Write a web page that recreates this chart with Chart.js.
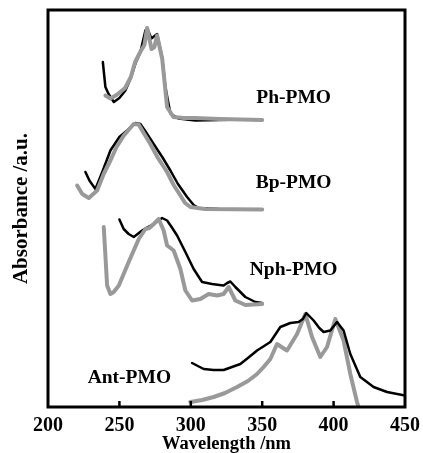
<!DOCTYPE html>
<html>
<head>
<meta charset="utf-8">
<script src="https://cdn.jsdelivr.net/npm/chart.js@4"></script>
<style>
  html, body { margin: 0; padding: 0; background: #fff; }
  #wrap { width: 423px; height: 453px; }
</style>
</head>
<body>
<div id="wrap"><canvas id="uvChart" width="423" height="453"></canvas></div>
<script>
// wavelength (nm) / absorbance (a.u., curves offset)
const phBlackX = [238.4, 240.2, 242.6, 246.1, 250, 254.2, 258, 261.2, 264.7, 268.2, 269.4, 272.4, 276.4, 279.9, 282.2, 285.7, 291.3, 303.2, 320, 335, 350];
const phBlackY = [3.45, 3.20, 3.125, 3.05, 3.09, 3.165, 3.29, 3.435, 3.55, 3.765, 3.79, 3.685, 3.73, 3.50, 3.20, 2.935, 2.885, 2.865, 2.87, 2.875, 2.87];
const phGrayX = [240.2, 243.7, 248, 254, 258, 261, 265, 267.5, 269.4, 272.5, 274.5, 276.4, 280, 283.4, 287.8, 295, 303, 320, 335, 350];
const phGrayY = [3.115, 3.085, 3.12, 3.19, 3.30, 3.45, 3.56, 3.62, 3.79, 3.58, 3.60, 3.715, 3.48, 3.00, 2.90, 2.89, 2.89, 2.88, 2.875, 2.87];

const bpBlackX = [226.2, 229, 233.2, 238, 243.7, 250, 255.4, 261.2, 264.7, 269, 274.0, 280, 285.7, 291, 297.4, 302, 305.5, 320, 350];
const bpBlackY = [2.35, 2.265, 2.18, 2.35, 2.565, 2.70, 2.765, 2.84, 2.83, 2.74, 2.63, 2.50, 2.365, 2.23, 2.10, 2.02, 1.99, 1.98, 1.975];
const bpGrayX = [220.4, 224, 228.6, 234.4, 239, 243.7, 248, 253.1, 260.0, 263.5, 267, 271.7, 277, 283.4, 288, 292.7, 296, 299.7, 310, 350];
const bpGrayY = [2.215, 2.13, 2.09, 2.165, 2.33, 2.465, 2.60, 2.715, 2.83, 2.825, 2.74, 2.63, 2.49, 2.35, 2.22, 2.115, 2.04, 2.0, 1.98, 1.975];

const nphBlackX = [250.0, 253, 256.5, 260.05, 265.9, 270, 274.05, 279.9, 283.4, 287, 290.4, 296.2, 302.0, 307.9, 314.9, 320, 323.0, 325.5, 327.7, 331.2, 338.2, 345.2, 350];
const nphBlackY = [1.875, 1.78, 1.73, 1.70, 1.765, 1.80, 1.83, 1.89, 1.865, 1.79, 1.715, 1.55, 1.38, 1.25, 1.23, 1.22, 1.215, 1.24, 1.255, 1.20, 1.10, 1.05, 1.04];
const nphGrayX = [239.05, 241.4, 243.7, 246, 249.6, 256.5, 263.55, 268.2, 271, 274.05, 277.5, 281.0, 283.4, 288.0, 292.7, 296.2, 300.9, 306.7, 312.5, 318.4, 323.0, 326.5, 331.2, 338.2, 350];
const nphGrayY = [1.80, 1.215, 1.13, 1.15, 1.215, 1.45, 1.68, 1.78, 1.79, 1.83, 1.88, 1.765, 1.615, 1.565, 1.38, 1.165, 1.065, 1.08, 1.13, 1.115, 1.13, 1.20, 1.065, 1.02, 1.03];

const antBlackX = [300.9, 309.0, 316, 323.0, 334.7, 340, 346.4, 355.7, 362.7, 369.7, 375.5, 378.5, 380.9, 386.0, 390, 393.0, 397.7, 402.4, 407.0, 411.7, 418.7, 428.0, 437.4, 450];
const antBlackY = [0.44, 0.38, 0.37, 0.37, 0.43, 0.49, 0.565, 0.65, 0.80, 0.84, 0.85, 0.88, 0.94, 0.865, 0.79, 0.75, 0.765, 0.85, 0.765, 0.53, 0.30, 0.20, 0.15, 0.115];
const antGrayX = [299.7, 308, 316.0, 324, 332.4, 340, 346.4, 351, 355.7, 360.4, 363.5, 367.4, 374.4, 380.2, 384.9, 390.7, 395.4, 401.2, 407.0, 411.7, 416.4, 418.5];
const antGrayY = [0.05, 0.07, 0.10, 0.14, 0.20, 0.26, 0.33, 0.40, 0.48, 0.63, 0.60, 0.565, 0.73, 0.93, 0.70, 0.50, 0.60, 0.88, 0.665, 0.33, 0.05, -0.05];

const xTicks = [200, 250, 300, 350, 400, 450];
const sampleNames = ['Ph-PMO', 'Bp-PMO', 'Nph-PMO', 'Ant-PMO'];
const labelX = [372, 372, 372, 257];
const labelY = [3.095, 2.245, 1.375, 0.295];

const serif = "'Liberation Serif', 'Times New Roman', serif";
const BLACK = '#000000';
const GRAY = '#999999';

function pts(xs, ys) {
    return xs.map((x, i) => ({ x: x, y: ys[i] }));
}

function line(name, xs, ys, color, order) {
    return {
        label: name,
        data: pts(xs, ys),
        borderColor: color,
        borderWidth: color === GRAY ? 4 : 2.5,
        pointRadius: 0,
        tension: 0,
        fill: false,
        borderCapStyle: 'round',
        borderJoinStyle: 'round',
        order: order
    };
}

// frame, inward ticks and sample names
const decor = {
    id: 'decor',
    afterDraw(chart) {
        const ctx = chart.ctx;
        const a = chart.chartArea;
        const xs = chart.scales.x;
        const ys = chart.scales.y;
        ctx.save();
        ctx.strokeStyle = '#000';
        ctx.lineWidth = 3;
        ctx.strokeRect(a.left, a.top, a.right - a.left, a.bottom - a.top);
        ctx.lineWidth = 2.5;
        xTicks.slice(1, -1).forEach(v => {
            const px = xs.getPixelForValue(v);
            ctx.beginPath();
            ctx.moveTo(px, a.bottom);
            ctx.lineTo(px, a.bottom - 6);
            ctx.stroke();
        });
        ctx.fillStyle = '#000';
        ctx.font = 'bold 19.5px ' + serif;
        ctx.textAlign = 'center';
        ctx.textBaseline = 'middle';
        sampleNames.forEach((n, i) => {
            ctx.fillText(n, xs.getPixelForValue(labelX[i]), ys.getPixelForValue(labelY[i]));
        });
        ctx.restore();
    }
};

const ctx1 = document.getElementById('uvChart').getContext('2d');
new Chart(ctx1, {
    type: 'line',
    data: {
        datasets: [
            line('Ph black', phBlackX, phBlackY, BLACK, 2),
            line('Ph gray', phGrayX, phGrayY, GRAY, 1),
            line('Bp black', bpBlackX, bpBlackY, BLACK, 2),
            line('Bp gray', bpGrayX, bpGrayY, GRAY, 1),
            line('Nph black', nphBlackX, nphBlackY, BLACK, 2),
            line('Nph gray', nphGrayX, nphGrayY, GRAY, 1),
            line('Ant gray', antGrayX, antGrayY, GRAY, 2),
            line('Ant black', antBlackX, antBlackY, BLACK, 1)
        ]
    },
    options: {
        responsive: false,
        animation: false,
        devicePixelRatio: 1,
        layout: { padding: { left: 0, right: 18, top: 10, bottom: 0 } },
        plugins: {
            legend: { display: false },
            tooltip: { enabled: false }
        },
        scales: {
            x: {
                type: 'linear',
                min: 200,
                max: 450,
                afterBuildTicks(scale) {
                    scale.ticks = xTicks.map(v => ({ value: v }));
                },
                afterFit(scale) { scale.height = 46; },
                grid: { display: false },
                border: { display: false },
                ticks: {
                    color: '#000',
                    padding: -1,
                    maxRotation: 0,
                    font: { family: serif, size: 20, weight: 'bold' }
                },
                title: {
                    display: true,
                    text: 'Wavelength /nm',
                    color: '#000',
                    padding: { top: 0, bottom: -2 },
                    font: { family: serif, size: 18.5, weight: 'bold' }
                }
            },
            y: {
                min: 0,
                max: 3.97,
                afterFit(scale) { scale.width = 48; },
                grid: { display: false },
                border: { display: false },
                ticks: { display: false },
                title: {
                    display: true,
                    text: 'Absorbance /a.u.',
                    color: '#000',
                    padding: { top: 9, bottom: 0 },
                    font: { family: serif, size: 21, weight: 'bold' }
                }
            }
        }
    },
    plugins: [decor]
});
</script>
</body>
</html>
